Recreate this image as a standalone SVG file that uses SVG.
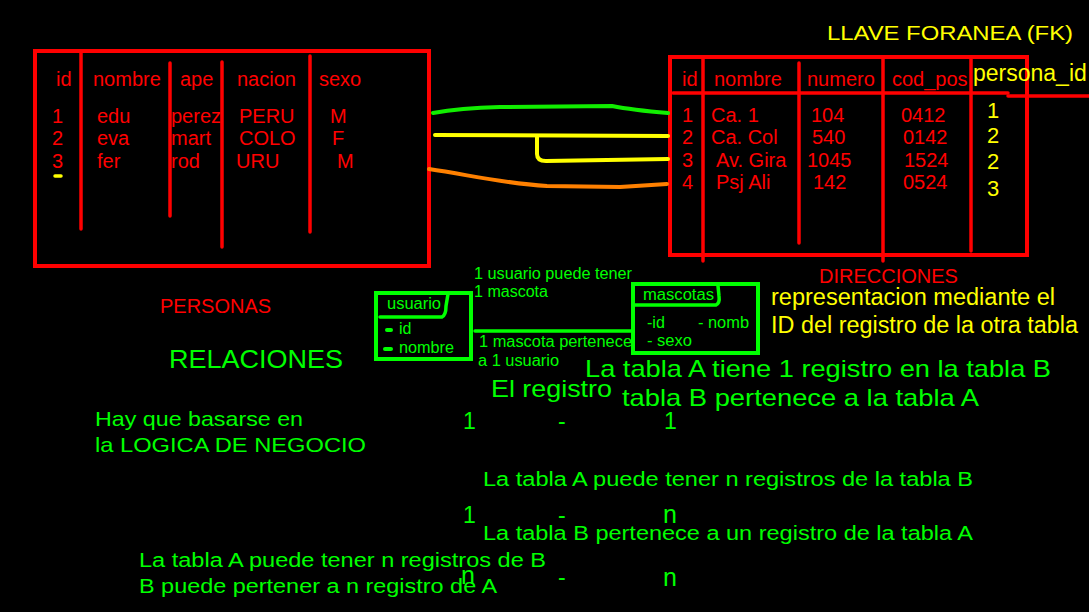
<svg xmlns="http://www.w3.org/2000/svg" width="1089" height="612" viewBox="0 0 1089 612">
<style>
text{font-family:"Liberation Sans",Arial,sans-serif}
.r{fill:#ff0000;font-size:20px}
.y{fill:#ffff00}
.g{fill:#00ff00}
.rl{stroke:#ff0000;stroke-width:3.5;fill:none;stroke-linecap:round}
.box{stroke:#ff0000;stroke-width:4;fill:none}
.gl{stroke:#00ff00;stroke-width:3.5;fill:none;stroke-linecap:round;stroke-linejoin:round}
.c{fill:none;stroke-width:4;stroke-linecap:round;stroke-linejoin:round}
</style>
<rect x="0" y="0" width="1089" height="612" fill="#000"/>

<g id="personas">
<rect class="box" x="35" y="51" width="394" height="215"/>
<line class="rl" x1="81" y1="51" x2="81" y2="229"/>
<line class="rl" x1="170" y1="63" x2="170" y2="216"/>
<line class="rl" x1="222" y1="62" x2="222" y2="247"/>
<line class="rl" x1="310" y1="56" x2="310" y2="232"/>
<text class="r" x="56" y="86">id</text>
<text class="r" x="93" y="86">nombre</text>
<text class="r" x="180" y="86">ape</text>
<text class="r" x="237" y="86">nacion</text>
<text class="r" x="319" y="86">sexo</text>
<text class="r" x="52" y="123">1</text>
<text class="r" x="97" y="123">edu</text>
<text class="r" x="171" y="123">perez</text>
<text class="r" x="239" y="123">PERU</text>
<text class="r" x="330" y="123">M</text>
<text class="r" x="52" y="145">2</text>
<text class="r" x="97" y="145">eva</text>
<text class="r" x="171" y="145">mart</text>
<text class="r" x="239" y="145">COLO</text>
<text class="r" x="332" y="145">F</text>
<text class="r" x="52" y="168">3</text>
<text class="r" x="97" y="168">fer</text>
<text class="r" x="171" y="168">rod</text>
<text class="r" x="236" y="168">URU</text>
<text class="r" x="337" y="168">M</text>
<line x1="55" y1="176" x2="61" y2="176" stroke="#ffff00" stroke-width="3.5" stroke-linecap="round"/>
<text class="r" x="160" y="313">PERSONAS</text>
</g>

<g id="direcciones">
<rect class="box" x="670" y="57" width="357" height="198"/>
<line class="rl" x1="673" y1="93" x2="1008" y2="93"/>
<line class="rl" x1="1008" y1="96" x2="1089" y2="96"/>
<line class="rl" x1="703" y1="57" x2="703" y2="261"/>
<line class="rl" x1="799" y1="63" x2="799" y2="243"/>
<line class="rl" x1="883" y1="57" x2="883" y2="261"/>
<line class="rl" x1="971" y1="57" x2="971" y2="251"/>
<text class="r" x="682" y="86">id</text>
<text class="r" x="714" y="86">nombre</text>
<text class="r" x="807" y="86">numero</text>
<text class="r" x="892" y="86">cod_pos</text>
<text class="y" x="973" y="81" font-size="23">persona_id</text>
<text class="r" x="682" y="122">1</text>
<text class="r" x="711" y="122">Ca. 1</text>
<text class="r" x="811" y="122">104</text>
<text class="r" x="901" y="122">0412</text>
<text class="r" x="682" y="144">2</text>
<text class="r" x="711" y="144">Ca. Col</text>
<text class="r" x="812" y="144">540</text>
<text class="r" x="903" y="144">0142</text>
<text class="r" x="682" y="167">3</text>
<text class="r" x="716" y="167">Av. Gira</text>
<text class="r" x="807" y="167">1045</text>
<text class="r" x="904" y="167">1524</text>
<text class="r" x="682" y="189">4</text>
<text class="r" x="716" y="189">Psj Ali</text>
<text class="r" x="813" y="189">142</text>
<text class="r" x="903" y="189">0524</text>
<text class="y" x="987" y="118" font-size="22">1</text>
<text class="y" x="987" y="143" font-size="22">2</text>
<text class="y" x="987" y="169" font-size="22">2</text>
<text class="y" x="987" y="196" font-size="22">3</text>
<text class="y" x="827" y="40" font-size="21" textLength="246" lengthAdjust="spacingAndGlyphs">LLAVE FORANEA (FK)</text>
<text class="r" x="819" y="283">DIRECCIONES</text>
</g>

<g id="connectors">
<path class="c" stroke="#11ee00" d="M433,113 Q460,108 500,107 L612,106 Q632,110 668,113"/>
<path class="c" stroke="#ffff00" d="M435,135 L668,136"/>
<path class="c" stroke="#ffff00" d="M537,136 L537,154 Q537,161 546,161 L668,159"/>
<path class="c" stroke="#ff8000" d="M429,169 C470,175 500,183 547,186 L620,187 L667,184"/>
<line class="gl" x1="475" y1="331" x2="633" y2="331"/>
</g>

<g id="usuario">
<rect x="376" y="293" width="95" height="66" fill="none" stroke="#00ff00" stroke-width="4"/>
<path class="gl" d="M380,317 L442,317 Q446,315 446,306 L448,294"/>
<line x1="387" y1="330" x2="391" y2="330" stroke="#00ff00" stroke-width="4" stroke-linecap="round"/>
<line x1="385" y1="349" x2="391" y2="349" stroke="#00ff00" stroke-width="4" stroke-linecap="round"/>
<text class="g" x="387" y="309" font-size="16" textLength="54" lengthAdjust="spacingAndGlyphs">usuario</text>
<text class="g" x="399" y="334" font-size="16">id</text>
<text class="g" x="399" y="353" font-size="16" textLength="55" lengthAdjust="spacingAndGlyphs">nombre</text>
</g>

<g id="mascotas">
<rect x="633" y="284" width="125" height="69" fill="none" stroke="#00ff00" stroke-width="4"/>
<path class="gl" d="M634,305 L716,305 Q720,303 719,296 L718,286"/>
<text class="g" x="643" y="300" font-size="16" textLength="71" lengthAdjust="spacingAndGlyphs">mascotas</text>
<text class="g" x="647" y="328" font-size="16">-id</text>
<text class="g" x="698" y="328" font-size="16" textLength="51" lengthAdjust="spacingAndGlyphs">- nomb</text>
<text class="g" x="647" y="346" font-size="16" textLength="45" lengthAdjust="spacingAndGlyphs">- sexo</text>
</g>

<g id="labels">
<text class="g" x="474" y="279" font-size="16" textLength="158" lengthAdjust="spacingAndGlyphs">1 usuario puede tener</text>
<text class="g" x="474" y="297" font-size="16" textLength="74" lengthAdjust="spacingAndGlyphs">1 mascota</text>
<text class="g" x="479" y="347" font-size="16" textLength="153" lengthAdjust="spacingAndGlyphs">1 mascota pertenece</text>
<text class="g" x="478" y="366" font-size="16" textLength="81" lengthAdjust="spacingAndGlyphs">a 1 usuario</text>
<text class="y" x="771" y="305" font-size="23.5" textLength="284" lengthAdjust="spacingAndGlyphs">representacion mediante el</text>
<text class="y" x="771" y="333" font-size="23.5" textLength="307" lengthAdjust="spacingAndGlyphs">ID del registro de la otra tabla</text>
<text class="g" x="169" y="368" font-size="25" textLength="174" lengthAdjust="spacingAndGlyphs">RELACIONES</text>
<text class="g" x="95" y="426" font-size="21" textLength="208" lengthAdjust="spacingAndGlyphs">Hay que basarse en</text>
<text class="g" x="95" y="452" font-size="21" textLength="271" lengthAdjust="spacingAndGlyphs">la LOGICA DE NEGOCIO</text>
<text class="g" x="585" y="377" font-size="24" textLength="466" lengthAdjust="spacingAndGlyphs">La tabla A tiene 1 registro en la tabla B</text>
<text class="g" x="491" y="397" font-size="24" textLength="121" lengthAdjust="spacingAndGlyphs">El registro</text>
<text class="g" x="622" y="406" font-size="24" textLength="357" lengthAdjust="spacingAndGlyphs">tabla B pertenece a la tabla A</text>
<text class="g" x="463" y="429" font-size="23">1</text>
<text class="g" x="558" y="429" font-size="23">-</text>
<text class="g" x="664" y="429" font-size="23">1</text>
<text class="g" x="483" y="486" font-size="20" textLength="490" lengthAdjust="spacingAndGlyphs">La tabla A puede tener n registros de la tabla B</text>
<text class="g" x="463" y="523" font-size="23">1</text>
<text class="g" x="558" y="523" font-size="23">-</text>
<text class="g" x="663" y="523" font-size="25">n</text>
<text class="g" x="483" y="540" font-size="20" textLength="490" lengthAdjust="spacingAndGlyphs">La tabla B pertenece a un registro de la tabla A</text>
<text class="g" x="139" y="567" font-size="20" textLength="407" lengthAdjust="spacingAndGlyphs">La tabla A puede tener n registros de B</text>
<text class="g" x="139" y="593" font-size="20" textLength="358" lengthAdjust="spacingAndGlyphs">B puede pertener a n registro de A</text>
<text class="g" x="461" y="584" font-size="25">n</text>
<text class="g" x="558" y="585" font-size="23">-</text>
<text class="g" x="663" y="586" font-size="25">n</text>
</g>
</svg>
